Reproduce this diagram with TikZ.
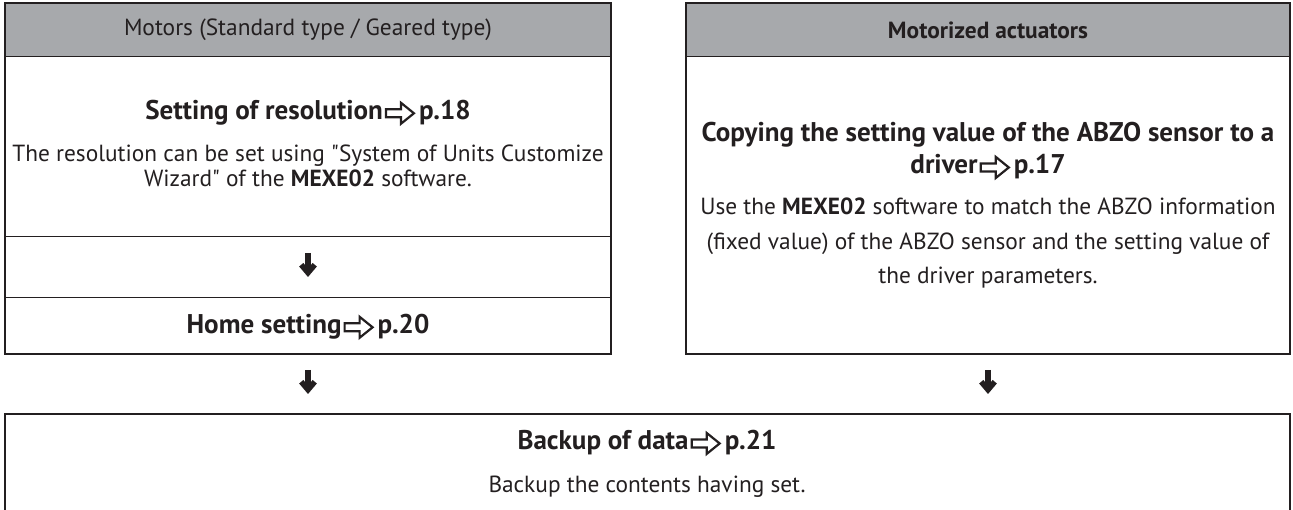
\documentclass[tikz,border=0pt]{standalone}
\usepackage{fontspec}
\setmainfont{PT Sans}[Ligatures=TeXOff]
\usetikzlibrary{arrows.meta}
\definecolor{ink}{HTML}{231F20}
\definecolor{hdr}{HTML}{A7A9AC}
\newlength\mw
\newcommand{\pref}{\hspace{2pt}\tikz[x=1pt,y=1pt,baseline=0pt]\draw[draw=ink,line width=2.2pt,line join=miter] (0,2.5)--(15,2.5)--(15,-4)--(28,6.5)--(15,17)--(15,10.5)--(0,10.5)--cycle;\hspace{4pt}}
\begin{document}
% font sizes fitted to the widths measured on the reference
\settowidth\mw{\fontsize{10}{12}\selectfont Motors (Standard type / Geared type)}
\pgfmathsetmacro\hsz{3680/\mw}
\settowidth\mw{\fontsize{10}{12}\selectfont\bfseries Backup of data}
\pgfmathsetmacro\tsz{1710/\mw}
\settowidth\mw{\fontsize{10}{12}\selectfont Backup the contents having set.}
\pgfmathsetmacro\bsz{3170/\mw}
\settowidth\mw{\fontsize{\bsz}{12}\selectfont The resolution can be set using "System of Units Customize}
\pgfmathsetmacro\lsz{min(\bsz,\bsz*596/\mw)}
\settowidth\mw{\fontsize{\tsz}{12}\selectfont\bfseries Copying the setting value of the ABZO sensor to a}
\pgfmathsetmacro\rtsz{min(\tsz,\tsz*598/\mw)}
\begin{tikzpicture}[x=1pt,y=-1pt,
  cell/.style={draw=ink, line width=1pt, inner sep=0pt, outer sep=0pt, anchor=north west},
  hdrcell/.style={cell, fill=hdr},
  outer/.style={draw=ink, line width=2.6pt},
  htext/.style={text=ink, inner sep=0pt, font=\fontsize{\hsz}{27}\selectfont},
  hbtext/.style={htext, font=\fontsize{\hsz}{27}\selectfont\bfseries},
  ttext/.style={text=ink, inner sep=0pt, align=center, font=\fontsize{\tsz}{32}\selectfont\bfseries},
  rttext/.style={ttext, font=\fontsize{\rtsz}{32}\selectfont\bfseries},
  btext/.style={text=ink, inner sep=0pt, align=center, font=\fontsize{\bsz}{34.5}\selectfont},
  btextl/.style={btext, font=\fontsize{\lsz}{24.5}\selectfont},
  darr/.style={draw=ink, line width=5.5pt, -{Straight Barb[length=8pt,width=13.5pt,line width=5.5pt]}}
]
\useasboundingbox (0,0) rectangle (1293,510);
\clip (0,0) rectangle (1293,510);
% left column
\node[hdrcell, minimum width=606pt, minimum height=54pt] (lh) at (5,3) {};
\node[cell, minimum width=606pt, minimum height=180pt] (lr) at (5,57) {};
\node[cell, minimum width=606pt, minimum height=61pt] (la) at (5,237) {};
\node[cell, minimum width=606pt, minimum height=56pt] (lhm) at (5,298) {};
\draw[outer] (lh.north west) rectangle (lhm.south east);
\node[htext] (lht) at (308,30) {Motors (Standard type / Geared type)};
\node[ttext] (ltt) at (308,113) {Setting of resolution\pref p.18};
\node[btextl] (lbt) at (308,166) {The resolution can be set using "System of Units Customize\\Wizard" of the \textbf{MEXE02} software.};
\node[ttext] (lhmt) at (308,327) {Home setting\pref p.20};
% right column
\node[hdrcell, minimum width=604pt, minimum height=54pt] (rh) at (686,3) {};
\node[cell, minimum width=604pt, minimum height=297pt] (rr) at (686,57) {};
\draw[outer] (rh.north west) rectangle (rr.south east);
\node[hbtext] (rht) at (988,30) {Motorized actuators};
\node[rttext] (rtt) at (988,151) {Copying the setting value of the ABZO sensor to a\\driver\pref p.17};
\node[btext] (rbt) at (988,243.5) {Use the \textbf{MEXE02} software to match the ABZO information\\(fixed value) of the ABZO sensor and the setting value of\\the driver parameters.};
% bottom box
\node[cell, draw=none, minimum width=1285pt, minimum height=110pt] (bb) at (5,414) {};
\draw[outer] (bb.south west) -- (bb.north west) -- (bb.north east) -- (bb.south east);
\node[ttext] (btt) at (647,443) {Backup of data\pref p.21};
\node[btext] (bbt) at (647,487) {Backup the contents having set.};
% arrows
\coordinate (a1s) at (308,253);
\coordinate (a1e) at (308,277);
\coordinate (a2s) at (308,370);
\coordinate (a2e) at (308,394);
\coordinate (a3s) at (988,370);
\coordinate (a3e) at (988,394);
\draw[darr] (a1s) -- (a1e);
\draw[darr] (a2s) -- (a2e);
\draw[darr] (a3s) -- (a3e);
\end{tikzpicture}
\end{document}
